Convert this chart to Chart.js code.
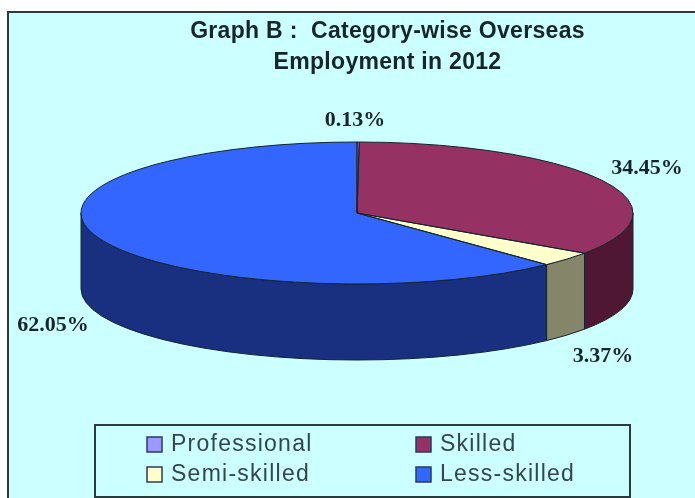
<!DOCTYPE html>
<html>
<head>
<meta charset="utf-8">
<title>Category-wise Overseas Employment in 2012</title>
<script src="https://cdn.jsdelivr.net/npm/chart.js@4"></script>
<style>
html,body{margin:0;padding:0;background:#fff;overflow:hidden}
#wrap{position:relative;width:695px;height:498px}
</style>
</head>
<body>
<div id="wrap"><canvas id="c" width="695" height="498"></canvas></div>
<script>
// Chart content
const titleLines = ['Graph B :  Category-wise Overseas', 'Employment in 2012'];
const categories = ['Professional', 'Skilled', 'Semi-skilled', 'Less-skilled'];
const shares = [0.13, 34.45, 3.37, 62.05];

// Slice colours: top face and side wall
const topColours = ['#9999ff', '#953163', '#ffffcc', '#3366ff'];
const wallColours = ['#4d4d80', '#4f1733', '#85856a', '#18307f'];

// Squashed-disc geometry for the 3D look
const disc = { cx: 357, cy: 213, rx: 276, ry: 71, depth: 76 };
const ink = '#15262a';

// Where each percentage label sits
const labelSpots = [[355, 120], [647, 168], [603, 356], [53, 325]];

// Legend cells, column by column
const legendBox = { x: 95, y: 425, w: 535, h: 72 };
const legendCells = [[147, 444], [416, 444], [147, 474], [416, 474]];

// Panel background and border behind everything
const panel = {
  id: 'panel',
  beforeDraw(chart) {
    const { ctx } = chart;
    ctx.save();
    ctx.fillStyle = '#ccffff';
    ctx.fillRect(8, 12, 690, 490);
    ctx.strokeStyle = '#2b3b3b';
    ctx.lineWidth = 2;
    ctx.beginPath();
    ctx.moveTo(8, 500);
    ctx.lineTo(8, 12);
    ctx.lineTo(697, 12);
    ctx.stroke();
    ctx.restore();
    ctx.letterSpacing = '0.3px';
  }
};

function wallPath(ctx, a, b) {
  ctx.beginPath();
  ctx.ellipse(disc.cx, disc.cy, disc.rx, disc.ry, 0, a, b);
  ctx.ellipse(disc.cx, disc.cy + disc.depth, disc.rx, disc.ry, 0, b, a, true);
  ctx.closePath();
}

// Turns the flat pie into a tilted disc: walls first, then the squashed
// faces from the library's own arc elements, then thin outlines.
const tiltedDisc = {
  id: 'tiltedDisc',
  beforeDatasetDraw(chart, args) {
    const { ctx } = chart;
    const arcs = chart.getDatasetMeta(args.index).data;
    ctx.save();
    ctx.strokeStyle = ink;
    ctx.lineWidth = 1;
    arcs.forEach((arc, i) => {
      const s = arc.startAngle, e = arc.endAngle;
      // Only the part of each slice facing the viewer has a wall
      const a = Math.max(s, 0), b = Math.min(e, Math.PI);
      if (b > a) {
        wallPath(ctx, a, b);
        ctx.fillStyle = wallColours[i];
        ctx.fill();
        ctx.stroke();
      }
    });
    ctx.restore();

    const first = arcs[0];
    ctx.save();
    ctx.translate(disc.cx, disc.cy);
    ctx.scale(disc.rx / first.outerRadius, disc.ry / first.outerRadius);
    ctx.translate(-first.x, -first.y);
  },
  afterDatasetDraw(chart, args) {
    const { ctx } = chart;
    ctx.restore();
    const arcs = chart.getDatasetMeta(args.index).data;
    ctx.save();
    ctx.strokeStyle = ink;
    ctx.lineWidth = 1;
    arcs.forEach(arc => {
      ctx.beginPath();
      ctx.moveTo(disc.cx, disc.cy);
      ctx.ellipse(disc.cx, disc.cy, disc.rx, disc.ry, 0, arc.startAngle, arc.endAngle);
      ctx.closePath();
      ctx.stroke();
    });
    ctx.restore();
  }
};

// Percentage labels and the boxed two-column legend
const annotations = {
  id: 'annotations',
  afterDraw(chart) {
    const { ctx } = chart;
    ctx.save();
    ctx.fillStyle = ink;
    ctx.textAlign = 'center';
    ctx.textBaseline = 'middle';
    ctx.letterSpacing = '0px';
    ctx.font = 'bold 22px "Liberation Serif"';
    shares.forEach((v, i) => {
      ctx.fillText(v.toFixed(2) + '%', labelSpots[i][0], labelSpots[i][1]);
    });

    ctx.strokeStyle = '#2b3b3b';
    ctx.lineWidth = 2;
    ctx.strokeRect(legendBox.x, legendBox.y, legendBox.w, legendBox.h);

    ctx.textAlign = 'left';
    ctx.font = '23px "Liberation Sans"';
    ctx.letterSpacing = '1.25px';
    categories.forEach((name, i) => {
      const [x, y] = legendCells[i];
      ctx.fillStyle = topColours[i];
      ctx.fillRect(x, y - 7, 15, 15);
      ctx.lineWidth = 1.5;
      ctx.strokeStyle = '#2b3b60';
      ctx.strokeRect(x, y - 7, 15, 15);
      ctx.fillStyle = '#35464a';
      ctx.fillText(name, x + 24, y + 1);
    });
    ctx.restore();
  }
};

new Chart(document.getElementById('c'), {
  type: 'pie',
  data: {
    labels: categories,
    datasets: [{
      data: shares,
      backgroundColor: topColours,
      borderWidth: 0,
      hoverOffset: 0,
      clip: false
    }]
  },
  options: {
    responsive: false,
    animation: false,
    events: [],
    layout: { padding: { left: 80 } },
    plugins: {
      legend: { display: false },
      tooltip: { enabled: false },
      title: {
        display: true,
        fullSize: false,
        text: titleLines,
        color: ink,
        font: { family: '"Liberation Sans"', size: 23, weight: 'bold', lineHeight: 31 / 23 },
        padding: { top: 16, bottom: 0 }
      }
    }
  },
  plugins: [panel, tiltedDisc, annotations]
});
</script>
</body>
</html>
